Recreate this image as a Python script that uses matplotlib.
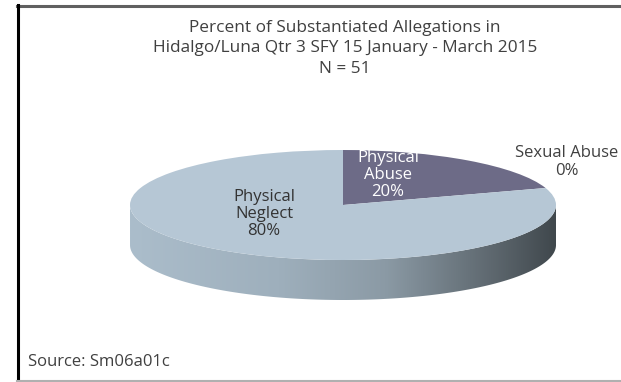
import numpy as np
import matplotlib
matplotlib.use("Agg")
import matplotlib.pyplot as plt
from matplotlib.colors import LinearSegmentedColormap
from matplotlib.patches import Polygon
from matplotlib.lines import Line2D

# data
categories = ["Physical Abuse", "Sexual Abuse", "Physical Neglect"]
values = [20, 0, 80]
slice_colors = ["#6d6b87", "#6d6b87", "#b6c7d5"]
title_lines = ["Percent of Substantiated Allegations in",
               "Hidalgo/Luna Qtr 3 SFY 15 January - March 2015",
               "N = 51"]
source = "Source: Sm06a01c"

plt.rcParams['font.family'] = ['Open Sans', 'DejaVu Sans']

W, H = 621, 382
fig = plt.figure(figsize=(W / 100, H / 100), dpi=100)
fig.patch.set_facecolor("white")

# pie geometry in pixels (top face ellipse)
cx, cy = 343, 205
rx, ry = 213, 55
depth = 40

ax = fig.add_axes([0, 0, 1, 1])
ax.pie(values, colors=slice_colors, startangle=90, counterclock=False,
       radius=1, center=(0, 0), frame=True,
       wedgeprops=dict(edgecolor="none", linewidth=0, zorder=3))
ax.set_aspect("auto")
ax.set_xlim(-cx / rx, (W - cx) / rx)
ax.set_ylim(-(H - cy) / ry, cy / ry)
ax.axis("off")

# side of the cylinder (front half), shaded with a gradient
d = depth / ry
th = np.linspace(np.pi, 2 * np.pi, 200)
xs = np.cos(th)
top = np.sin(th)
pts = np.concatenate([np.column_stack([xs, top]),
                      np.column_stack([xs[::-1], top[::-1] - d])])
side = Polygon(pts, closed=True, facecolor="none", edgecolor="none")
ax.add_patch(side)
cmap = LinearSegmentedColormap.from_list(
    "side", [(0.0, "#abbdcb"), (0.35, "#9eafbc"), (0.6, "#8b9aa5"),
             (0.85, "#5e686f"), (1.0, "#40484d")])
grad = np.linspace(0, 1, 256).reshape(1, -1)
im = ax.imshow(grad, cmap=cmap, extent=[-1, 1, -1 - d, 0], aspect="auto",
               zorder=1)
im.set_clip_path(side)

# slice labels
lab = dict(ha="center", va="center", fontsize=12, linespacing=1.12, zorder=5)
ax.text((264 - cx) / rx, (cy - 214) / ry, "Physical\nNeglect\n80%",
        color="#333333", **lab)
ax.text((388 - cx) / rx, (cy - 175) / ry, "Physical\nAbuse\n20%",
        color="white", **lab)
ax.text((567 - cx) / rx, (cy - 162) / ry, "Sexual Abuse\n0%",
        color="#404040", **lab)

# title and source
for i, line in enumerate(title_lines):
    fig.text(345 / W, 1 - (28 + 20.5 * i) / H, line, ha="center", va="center",
             fontsize=12.4, color="#404040")
fig.text(28 / W, 1 - 362 / H, source, ha="left", va="center",
         fontsize=12, color="#404040")

# chart border
fig.add_artist(Line2D([17 / W, 1], [1 - 5.5 / H, 1 - 5.5 / H],
                      color="#606060", lw=2.2))
fig.add_artist(Line2D([17.5 / W, 17.5 / W], [0, 1 - 5 / H],
                      color="black", lw=2.2))
fig.add_artist(Line2D([17 / W, 1], [1.5 / H, 1.5 / H],
                      color="#b0b0b0", lw=1.5))

fig.savefig("out.png", dpi=100)
